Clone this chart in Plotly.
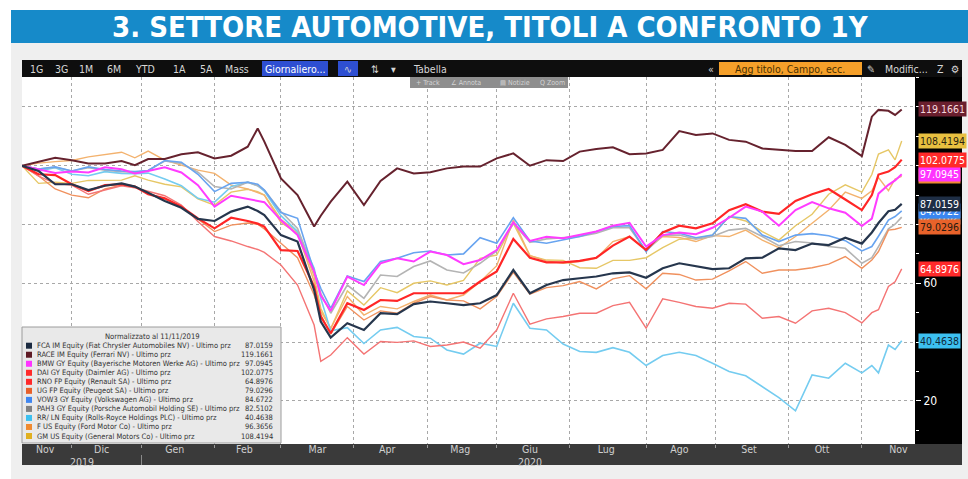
import plotly.graph_objects as go

# ---------------- data ----------------
dates = ["2019-11-11","2019-11-18","2019-11-25","2019-12-02","2019-12-09","2019-12-16","2019-12-23","2019-12-30",
         "2020-01-06","2020-01-13","2020-01-20","2020-01-27","2020-02-03","2020-02-10","2020-02-17","2020-02-20",
         "2020-02-24","2020-03-02","2020-03-09","2020-03-16","2020-03-18","2020-03-23","2020-03-30","2020-04-06",
         "2020-04-13","2020-04-20","2020-04-27","2020-05-04","2020-05-11","2020-05-18","2020-05-25","2020-06-01",
         "2020-06-08","2020-06-15","2020-06-22","2020-06-29","2020-07-06","2020-07-13","2020-07-20","2020-07-27",
         "2020-08-03","2020-08-10","2020-08-17","2020-08-24","2020-08-31","2020-09-07","2020-09-14","2020-09-21",
         "2020-09-28","2020-10-05","2020-10-12","2020-10-19","2020-10-26","2020-11-02","2020-11-05","2020-11-09",
         "2020-11-12","2020-11-16","2020-11-18"]

fca = [100, 98.2, 93.7, 93.7, 91.7, 93.2, 94.0, 92.9, 90.8, 88.0, 85.7, 81.9, 81.2, 84.4, 86.1, 84.6, 83.2, 76.4,
       74.2, 57.7, 47.0, 41.5, 46.4, 44.1, 49.8, 49.5, 52.9, 53.8, 53.2, 52.6, 53.2, 56.0, 64.5, 56.6, 59.4, 61.1,
       61.7, 62.3, 63.4, 63.7, 61.9, 65.1, 66.8, 65.9, 64.8, 65.1, 68.5, 68.7, 71.9, 71.3, 73.5, 73.0, 75.5, 73.5,
       77.3, 80.5, 84.5, 85.0, 87.0159]
race = [100, 101.4, 102.7, 101.9, 100.8, 100.8, 101.6, 100.2, 102.3, 102.3, 103.9, 104.6, 102.5, 103.4, 106.5,
        112.7, 108.2, 95.7, 90.0, 79.3, 83.0, 87.8, 94.6, 86.6, 94.8, 99.1, 97.4, 97.8, 99.1, 99.7, 99.7, 102.5,
        104.2, 100.0, 101.9, 101.6, 104.8, 105.7, 106.3, 103.9, 104.2, 105.4, 111.8, 110.5, 111.0, 108.8, 108.2,
        105.9, 105.4, 105.0, 105.0, 109.7, 107.1, 103.3, 116.7, 119.0, 118.7, 117.3, 119.1661]
bmw = [100, 98.7, 97.5, 98.0, 97.7, 99.5, 98.8, 97.4, 98.2, 99.5, 97.7, 93.4, 86.1, 89.8, 88.7, 88.0, 87.6, 81.5,
       76.4, 64.0, 55.8, 50.6, 62.3, 59.4, 66.8, 68.5, 67.4, 70.8, 69.6, 66.5, 67.9, 71.3, 80.7, 74.4, 75.8, 75.3,
       76.4, 77.6, 79.6, 80.6, 72.5, 76.4, 77.3, 76.7, 78.9, 82.3, 86.1, 84.4, 79.6, 84.9, 87.6, 85.5, 84.0, 79.5,
       82.0, 90.5, 93.5, 95.0, 97.0945]
dai = [100, 97.1, 96.8, 93.7, 91.4, 93.4, 93.7, 92.9, 90.3, 88.9, 86.1, 82.1, 78.7, 82.3, 81.2, 80.3, 79.3, 71.3,
       71.0, 58.9, 48.7, 43.0, 53.2, 50.9, 54.3, 54.0, 56.6, 56.6, 56.8, 56.6, 60.6, 64.0, 75.1, 68.7, 67.1, 67.1,
       67.6, 68.7, 72.8, 75.9, 71.3, 77.3, 79.6, 78.7, 80.4, 84.9, 86.9, 84.4, 83.6, 88.0, 90.3, 92.1, 88.5, 84.9,
       90.0, 97.0, 98.0, 99.5, 102.0775]
rno = [100, 96.5, 94.0, 93.4, 90.3, 91.7, 93.2, 92.5, 91.4, 89.8, 86.6, 81.0, 75.9, 74.4, 72.5, 71.5, 70.5, 66.2,
       59.4, 45.8, 33.4, 35.6, 41.5, 35.9, 40.2, 39.9, 40.4, 38.5, 39.0, 40.0, 37.9, 44.1, 56.6, 46.1, 47.9, 48.7,
       49.8, 49.8, 52.4, 53.5, 44.7, 54.7, 53.5, 52.1, 51.5, 53.2, 52.9, 48.1, 48.7, 46.4, 50.6, 51.5, 50.0, 46.5,
       50.0, 51.0, 58.9, 60.5, 64.8976]
ug = [100, 96.5, 92.1, 90.0, 89.1, 92.1, 93.4, 92.9, 90.6, 88.7, 86.1, 81.9, 77.6, 79.8, 80.5, 80.1, 78.5, 73.6,
      68.7, 56.0, 49.2, 42.7, 52.1, 47.5, 50.6, 49.8, 53.2, 55.5, 54.3, 54.0, 51.3, 55.5, 63.7, 56.3, 58.5, 59.2,
      60.6, 58.1, 61.5, 62.6, 58.1, 63.4, 63.0, 61.1, 61.4, 64.2, 67.4, 63.4, 64.5, 64.5, 65.3, 66.5, 69.1, 65.1,
      67.9, 70.8, 78.1, 78.4, 79.0296]
vow3 = [100, 98.9, 99.6, 98.2, 99.6, 98.7, 98.2, 98.0, 98.4, 101.8, 101.2, 97.1, 91.2, 94.0, 94.4, 93.7, 91.7, 84.1,
        82.1, 64.0, 58.3, 51.5, 62.5, 60.6, 67.4, 68.5, 70.4, 71.0, 69.6, 70.0, 75.5, 73.6, 82.3, 74.4, 73.6, 74.7,
        75.9, 77.6, 79.3, 79.6, 70.8, 77.6, 77.0, 75.5, 76.4, 82.7, 82.1, 76.4, 74.2, 76.4, 76.9, 76.2, 74.5, 71.0,
        72.5, 76.0, 81.5, 82.7, 84.6722]
pah3 = [100, 98.9, 99.5, 98.2, 99.3, 98.5, 98.0, 97.8, 98.4, 101.6, 100.8, 97.8, 92.9, 92.1, 94.4, 93.2, 91.7, 84.4,
        78.7, 64.0, 56.6, 49.8, 59.4, 54.9, 62.8, 62.3, 65.7, 67.6, 64.5, 63.5, 66.8, 71.0, 80.4, 73.9, 75.1, 75.5,
        75.9, 77.0, 78.9, 78.9, 71.0, 76.4, 76.4, 75.0, 75.9, 78.1, 78.7, 75.9, 72.8, 74.2, 73.7, 72.5, 71.9, 66.8,
        68.7, 72.5, 78.5, 80.1, 82.5102]
rr = [100, 98.2, 99.3, 97.1, 96.6, 98.0, 97.4, 97.3, 97.5, 95.5, 93.2, 88.9, 87.6, 92.9, 94.4, 93.2, 91.4, 83.0,
      77.6, 65.1, 54.9, 43.8, 44.9, 39.5, 44.1, 45.0, 41.9, 41.3, 37.3, 35.9, 39.6, 38.5, 53.2, 44.7, 44.1, 39.3,
      36.8, 36.5, 38.1, 36.5, 32.0, 35.4, 36.5, 35.4, 32.8, 30.0, 28.5, 24.9, 21.1, 16.6, 28.8, 27.7, 32.8, 29.5,
      32.0, 29.5, 39.0, 37.5, 40.4638]
ford = [100, 100.9, 101.4, 101.8, 103.0, 103.7, 104.6, 102.7, 105.0, 101.9, 100.2, 98.5, 97.4, 93.4, 92.1, 91.0,
        90.0, 80.7, 77.0, 60.6, 50.4, 44.7, 55.5, 49.2, 52.1, 51.3, 53.8, 56.0, 54.3, 56.0, 60.5, 66.0, 81.5, 69.4,
        67.6, 66.8, 67.4, 68.5, 74.2, 75.9, 71.3, 75.9, 75.6, 74.2, 76.2, 75.9, 78.1, 74.7, 72.1, 75.9, 80.4, 84.9,
        91.0, 88.9, 91.5, 96.0, 91.5, 95.5, 96.3656]
gm = [100, 94.0, 94.4, 94.0, 95.0, 95.1, 95.1, 96.6, 95.1, 93.7, 92.8, 88.7, 86.6, 91.0, 92.0, 91.2, 90.0, 81.7,
      77.6, 62.3, 51.5, 44.5, 57.4, 52.6, 58.5, 56.8, 60.0, 60.8, 59.4, 61.0, 68.5, 69.6, 80.4, 69.4, 67.9, 67.8,
      65.3, 65.1, 67.8, 67.8, 68.7, 72.1, 75.0, 75.3, 76.4, 82.7, 81.2, 77.6, 74.7, 79.6, 83.5, 90.3, 93.5, 91.0,
      97.0, 104.0, 105.4, 102.0, 108.4194]

series_names = [
    "FCA IM Equity (Fiat Chrysler Automobiles NV) - Ultimo prz",
    "RACE IM Equity (Ferrari NV) - Ultimo prz",
    "BMW GY Equity (Bayerische Motoren Werke AG) - Ultimo prz",
    "DAI GY Equity (Daimler AG) - Ultimo prz",
    "RNO FP Equity (Renault SA) - Ultimo prz",
    "UG FP Equity (Peugeot SA) - Ultimo prz",
    "VOW3 GY Equity (Volkswagen AG) - Ultimo prz",
    "PAH3 GY Equity (Porsche Automobil Holding SE) - Ultimo prz",
    "RR/ LN Equity (Rolls-Royce Holdings PLC) - Ultimo prz",
    "F US Equity (Ford Motor Co) - Ultimo prz",
    "GM US Equity (General Motors Co) - Ultimo prz",
]
series_values = [fca, race, bmw, dai, rno, ug, vow3, pah3, rr, ford, gm]

legend_colors = ["#1b2a40", "#5e1a24", "#ff33ff", "#ff2a2a", "#ff2a2a", "#e8602a",
                 "#3f86f0", "#808080", "#3cc0f0", "#f08a30", "#e0b020"]
line_colors = ["#26364d", "#66222e", "#ff3cff", "#ff2626", "#f47474", "#f0915e",
               "#68a4f0", "#b4b4b4", "#74ccf0", "#f3b26e", "#e6c766"]
line_widths = [2.2, 2.0, 2.0, 2.2, 1.4, 1.4, 1.6, 1.6, 1.6, 1.4, 1.4]
tag_colors = ["#1e2e45", "#6a1f2e", "#ff33ff", "#ff2a2a", "#ff2a2a", "#e8622a",
              "#3a86f0", "#8a8a8a", "#3cc0f0", "#f08a30", "#e8c040"]
tag_text_colors = ["#ffffff", "#f4d8de", "#ffffff", "#ffffff", "#ffffff", "#2a1a10",
                   "#ffffff", "#ffffff", "#10283a", "#2a1a10", "#2a2410"]
tag_order = [9, 7, 6, 0, 5, 2, 3, 10, 4, 8, 1]

y_tick_values = [20, 40, 60, 80, 100, 120]
y_tick_labels = ["20", "", "60", "", "", ""]   # the others sit under the value tags

month_labels = ["Nov", "Dic", "Gen", "Feb", "Mar", "Apr", "Mag", "Giu", "Lug", "Ago", "Set", "Ott", "Nov"]
month_label_dates = ["2019-11-20", "2019-12-13", "2020-01-16", "2020-02-14", "2020-03-17", "2020-04-15",
                     "2020-05-15", "2020-06-15", "2020-07-16", "2020-08-17", "2020-09-15", "2020-10-15",
                     "2020-11-17"]
month_starts = ["2019-12-02", "2020-01-02", "2020-02-03", "2020-03-02", "2020-04-01", "2020-05-01",
                "2020-06-01", "2020-07-01", "2020-08-03", "2020-09-01", "2020-10-01", "2020-11-02"]
year_labels = ["2019", "2020"]
year_label_dates = ["2019-12-05", "2020-06-15"]

title_text = "3. SETTORE AUTOMOTIVE, TITOLI A CONFRONTO 1Y"
legend_title = "Normalizzato al 11/11/2019"

# ---------------- geometry helpers ----------------
W, H = 968, 479
PL, PR, PT, PB = 22, 915, 77, 444
def xp(px):
    return (px - PL) / (PR - PL)
def yp(py):
    return (PB - py) / (PB - PT)

COND = "DejaVu Sans Condensed, DejaVu Sans, sans-serif"

fig = go.Figure()
for i in reversed(range(len(series_values))):
    fig.add_trace(go.Scatter(x=dates, y=series_values[i], mode="lines", name=series_names[i],
                             line=dict(color=line_colors[i], width=line_widths[i]),
                             showlegend=False, hoverinfo="skip"))

shapes = []
def rect(x0, y0, x1, y1, fill, layer="below", line=None):
    d = dict(type="rect", xref="paper", yref="paper", x0=xp(x0), x1=xp(x1), y0=yp(y1), y1=yp(y0),
             fillcolor=fill, layer=layer, line=dict(width=0))
    if line:
        d["line"] = dict(color=line, width=1)
    shapes.append(d)

rect(0, 0, 11, 479, "#ffffff")
rect(0, 0, 968, 10, "#ffffff")
rect(11, 10, 968, 43, "#168ac9")
rect(22, 60, 962, 77, "#0e0e0e")
rect(915, 77, 962, 444, "#000000")
rect(22, 444, 962, 465, "#3a3a3a")
rect(262, 61, 328, 76, "#2e4fd2")
rect(338, 61, 358, 76, "#2e4fd2")
rect(719, 62, 862, 75, "#f5a02a")
rect(410, 77, 568, 88, "#8e8e8e", layer="above")
rect(22, 327, 281, 443, "#e9e9e9", layer="above", line="#9c9c9c")
row_y0 = 345.7
row_dy = 9.03
for i, c in enumerate(legend_colors):
    cy = row_y0 + row_dy * i
    rect(26, cy - 3, 32, cy + 3, c, layer="above")
shapes.append(dict(type="line", xref="x", yref="paper", x0="2020-01-02", x1="2020-01-02",
                   y0=yp(465), y1=yp(455), line=dict(color="#8a8a8a", width=1), layer="above"))

ann = []
def note(text, x, y, size, color, family=COND, xanchor="center", xref="paper", yref="paper", **kw):
    ann.append(dict(text=text, x=x, y=y, xref=xref, yref=yref, xanchor=xanchor, yanchor="middle",
                    showarrow=False, font=dict(family=family, size=size, color=color), **kw))

note("<b>" + title_text + "</b>", xp(490), yp(27), 29, "white")
toolbar_items = [("1G", 36), ("3G", 61), ("1M", 86), ("6M", 114), ("YTD", 145), ("1A", 179), ("5A", 206),
                 ("Mass", 237), ("Giornaliero...", 295), ("∿", 348), ("⇅", 375), ("▾", 393), ("Tabella", 430),
                 ("«", 711), ("✎", 871), ("Modific...", 906), ("Z", 941), ("⚙", 955)]
for t, x in toolbar_items:
    note(t, xp(x), yp(68.5), 10.5, "#ffffff" if t.startswith("Gior") else "#d6d6d6")
note("Agg titolo, Campo, ecc.", xp(790), yp(68.5), 10.5, "#4a3000")
for t, x in [("+ Track", 428), ("∠ Annota", 466), ("▤ Notizie", 515), ("Q Zoom", 552)]:
    note(t, xp(x), yp(82.5), 7, "#d4d4d4")
for t, d in zip(year_labels, year_label_dates):
    note(t, d, yp(462), 10.5, "#cfcfcf", xref="x")
# legend
note(legend_title, xp(152), yp(336), 7.6, "#333333")
for i, (nm, vals) in enumerate(zip(series_names, series_values)):
    cy = row_y0 + row_dy * i
    note(nm, xp(35), yp(cy), 7.5, "#333333", xanchor="left")
    note(f"{vals[-1]:.4f}", xp(275), yp(cy), 7.5, "#333333", xanchor="right")
# value tags on right axis
for i in tag_order:
    v = series_values[i][-1]
    note(f"{v:.4f}", xp(918), v, 10.5, tag_text_colors[i], xanchor="left", yref="y",
         bgcolor=tag_colors[i], borderpad=1)

fig.update_layout(
    width=W, height=H,
    margin=dict(l=PL, r=W - PR, t=PT, b=H - PB, pad=0),
    paper_bgcolor="#efefef", plot_bgcolor="#ffffff",
    shapes=shapes, annotations=ann,
    xaxis=dict(type="date", range=["2019-11-11", "2020-11-24"],
               rangebreaks=[dict(bounds=["sat", "mon"]), dict(values=["2019-12-25", "2020-01-01"])],
               tickmode="array", tickvals=month_label_dates, ticktext=month_labels, ticks="",
               showgrid=False, zeroline=False, showline=False, ticklabelstandoff=-3,
               tickfont=dict(family=COND, size=10.5, color="#d0d0d0"),
               minor=dict(tickmode="array", tickvals=month_starts, showgrid=True, gridcolor="#a8a8a8",
                          griddash="dot", gridwidth=1, ticks="outside", ticklen=3, tickcolor="#9a9a9a")),
    yaxis=dict(side="right", range=[5.3, 130.2], tickmode="array", tickvals=y_tick_values,
               ticktext=y_tick_labels,
               showgrid=True, gridcolor="#a8a8a8", griddash="dot", gridwidth=1, zeroline=False,
               ticks="outside", ticklen=5, tickcolor="#ffffff",
               tickfont=dict(family=COND, size=12, color="#ffffff"),
               minor=dict(dtick=10, tick0=0, ticks="outside", ticklen=3, tickcolor="#ffffff", showgrid=False)),
)

fig.write_html("out.html", config={"displayModeBar": False},
               post_script="document.body.style.margin='0px';")
